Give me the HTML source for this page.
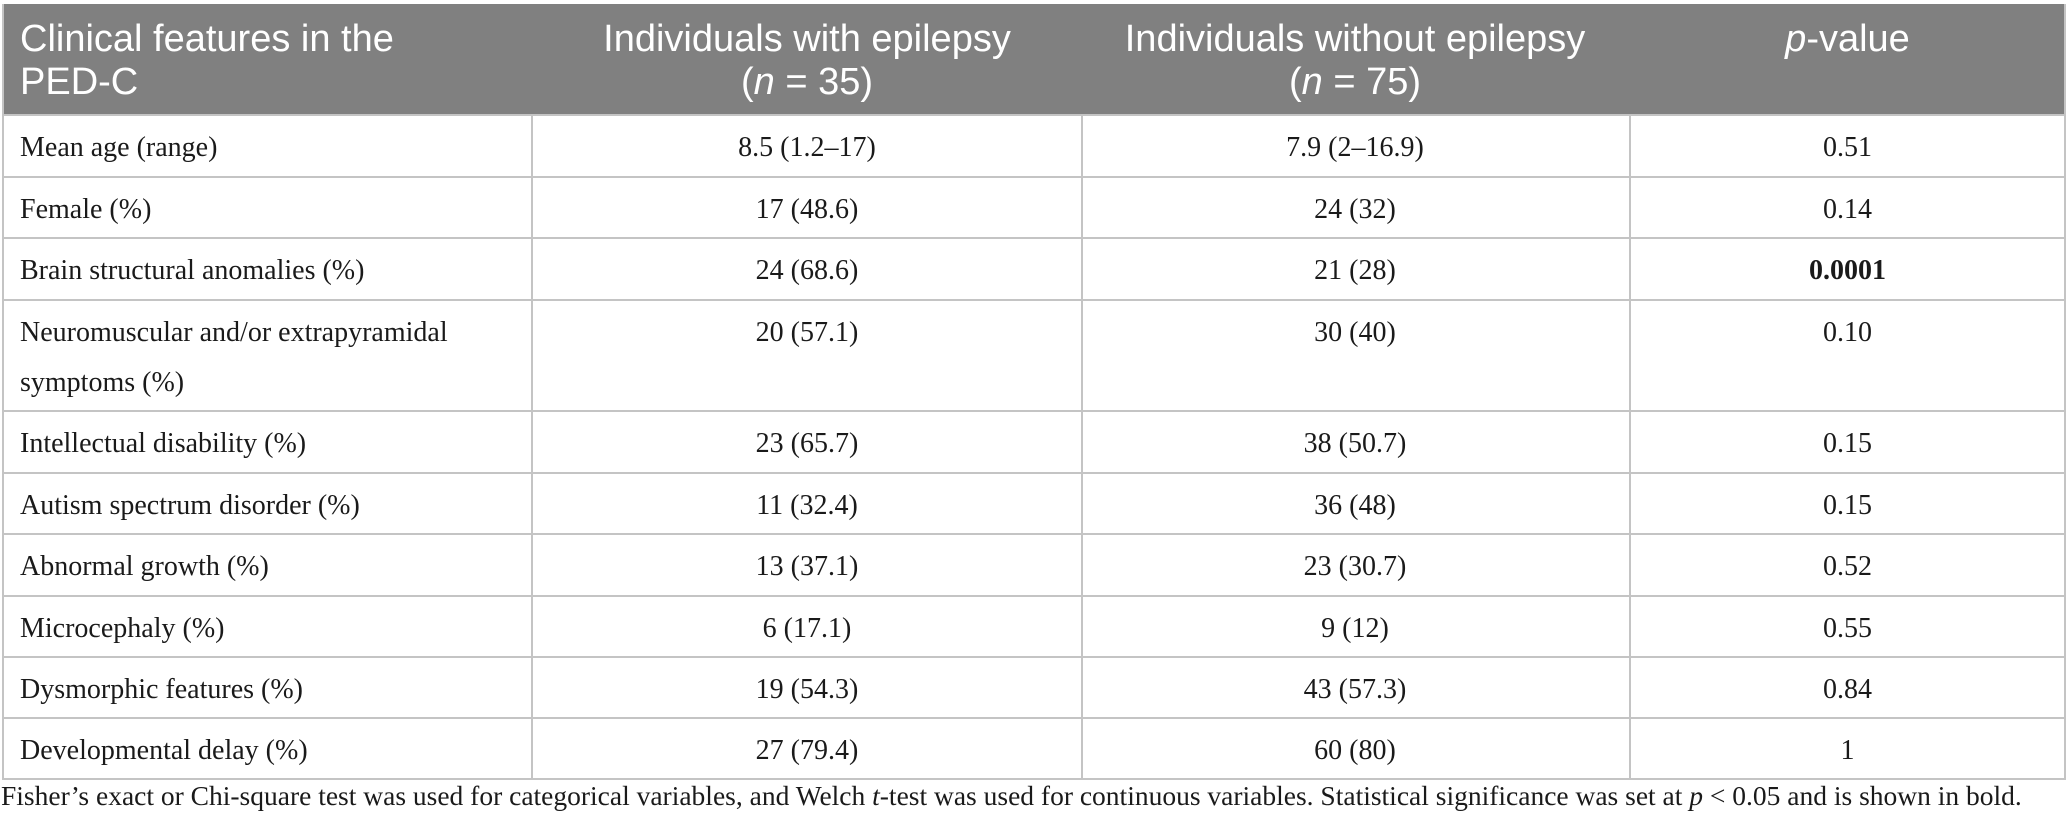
<!DOCTYPE html>
<html><head><meta charset="utf-8"><style>
body{margin:0;width:2067px;height:830px;background:#fff;position:relative;overflow:hidden;font-family:"Liberation Serif",serif;color:#1a1a1a}
.c{position:absolute;box-sizing:border-box;font-size:28px;line-height:42px}
.h{position:absolute;background:#808080;color:#fff;font-family:"Liberation Sans",sans-serif;font-size:38px;line-height:43px;box-sizing:border-box}
.hl{position:absolute;height:1.5px;background:#c4c4c4;left:2px;width:2064px}
.vl{position:absolute;width:1.5px;background:#c4c4c4}
</style></head><body>
<div class="h" style="left:2px;top:4px;width:2064px;height:110px"></div>
<div class="h" style="left:20px;top:18px;background:none">Clinical features in the<br>PED-C</div>
<div class="h" style="left:533px;width:548px;top:18px;text-align:center;background:none">Individuals with epilepsy<br>(<i>n</i> = 35)</div>
<div class="h" style="left:1081px;width:548px;top:18px;text-align:center;background:none">Individuals without epilepsy<br>(<i>n</i> = 75)</div>
<div class="h" style="left:1629px;width:437px;top:18px;text-align:center;background:none"><i>p</i>-value</div>
<div id="grid"></div>
<div class="c" style="left:1px;top:776px;font-size:27.5px;line-height:40px;white-space:nowrap">Fisher’s exact or Chi-square test was used for categorical variables, and Welch <i>t</i>-test was used for continuous variables. Statistical significance was set at <i>p</i> &lt; 0.05 and is shown in bold.</div>
<script>
const features=["Mean age (range)","Female (%)","Brain structural anomalies (%)","Neuromuscular and/or extrapyramidal<br>symptoms (%)","Intellectual disability (%)","Autism spectrum disorder (%)","Abnormal growth (%)","Microcephaly (%)","Dysmorphic features (%)","Developmental delay (%)"];
const withEp=["8.5 (1.2–17)","17 (48.6)","24 (68.6)","20 (57.1)","23 (65.7)","11 (32.4)","13 (37.1)","6 (17.1)","19 (54.3)","27 (79.4)"];
const withoutEp=["7.9 (2–16.9)","24 (32)","21 (28)","30 (40)","38 (50.7)","36 (48)","23 (30.7)","9 (12)","43 (57.3)","60 (80)"];
const pvals=["0.51","0.14","<b>0.0001</b>","0.10","0.15","0.15","0.52","0.55","0.84","1"];
const rowTops=[114,176,237,299,410,472,533,595,656,717,778];
const g=document.getElementById('grid');
const cols=[[2,531],[533,548],[1081,548],[1629,437]];
for(let i=0;i<features.length;i++){
  const vals=[features[i],withEp[i],withoutEp[i],pvals[i]];
  for(let j=0;j<4;j++){
    const d=document.createElement('div');d.className='c';
    
    
    d.style.left=(cols[j][0]+(j?0:18))+'px';d.style.width=(cols[j][1]-(j?0:18))+'px';
    d.style.top=(rowTops[i]+13)+'px';
    if(j){d.style.textAlign='center';}
    if(i==3&&j==0)d.style.lineHeight='50px',d.style.top=(rowTops[i]+9)+'px';
    d.innerHTML=vals[j];g.appendChild(d);
  }
}
rowTops.forEach(y=>{const l=document.createElement('div');l.className='hl';l.style.top=y+'px';

g.appendChild(l);});
[2,531,1081,1629,2064].forEach(x=>{const l=document.createElement('div');l.className='vl';l.style.left=x+'px';l.style.top=(x==2||x==2064?4:114)+'px';l.style.height=(x==2||x==2064?775:665)+'px';

g.appendChild(l);});
</script>
</body></html>
